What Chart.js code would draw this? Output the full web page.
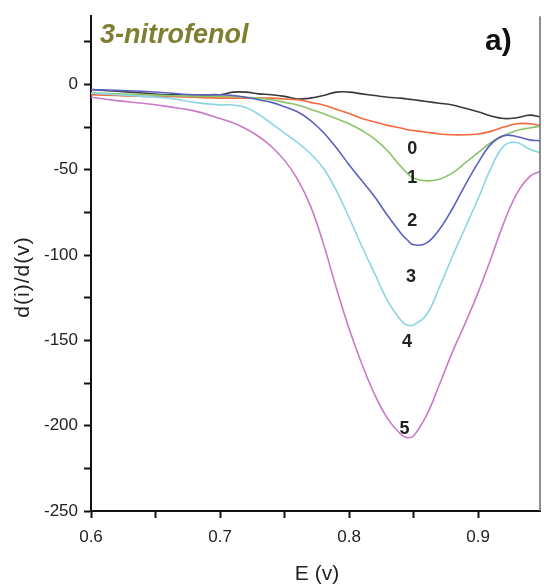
<!DOCTYPE html>
<html lang="pt">
<head>
  <meta charset="UTF-8" />
  <title>3-nitrofenol</title>
  <script src="https://cdn.jsdelivr.net/npm/chart.js"></script>
  <style>
    html, body { margin: 0; padding: 0; background: #fff; }
    #wrap { width: 544px; height: 587px; position: relative; }
  </style>
</head>
<body>
  <div id="wrap"><canvas id="chart"></canvas></div>

  <script>
    // potential (V)
    const E = [0.60, 0.62, 0.64, 0.66, 0.68, 0.70, 0.71, 0.72, 0.73, 0.74, 0.75, 0.76, 0.77, 0.78, 0.79, 0.80,
               0.81, 0.82, 0.83, 0.84, 0.845, 0.85, 0.86, 0.87, 0.88, 0.89, 0.90, 0.91, 0.92, 0.93, 0.94, 0.948];

    // d(i)/d(v) for each addition
    const curve0 = [-3, -4, -5, -6, -6, -6, -4.5, -4.5, -5.5, -6, -7, -8.5, -8, -6.5, -4.5, -4.5,
                    -5.5, -6.5, -7.5, -8, -8.5, -9, -10, -11, -12, -14, -16, -18.5, -20, -19.5, -18, -19];
    const curve1 = [-6, -6.5, -7, -7, -7.5, -8, -8, -8, -8, -8, -8.5, -9, -10.5, -12, -14.5, -17,
                    -20, -22, -24, -25.5, -26.5, -27, -28, -29, -29.5, -29.5, -29, -27.5, -25, -23, -23, -24];
    const curve2 = [-5, -5.5, -6, -6.5, -7, -7, -7, -7.5, -8, -9, -10.5, -12, -14.5, -17, -20, -23,
                    -27, -32, -39, -48, -52, -55, -56.5, -55.5, -52, -46, -40, -34, -30, -27, -25.5, -24.5];
    const curve3 = [-3, -3.5, -4, -5, -6, -6, -6.5, -7.5, -9, -10.5, -13, -16, -21, -28, -37, -47,
                    -56.5, -66, -77, -87, -91, -94, -93, -85, -73, -59, -46, -35, -30, -30.5, -32.5, -33];
    const curve4 = [-5, -6, -7, -8, -10.5, -12, -12, -13.5, -17.5, -23, -28.5, -34, -40.5, -49, -62, -78,
                    -95, -111, -127, -138, -141, -141, -135, -119, -101, -84, -67, -49, -36, -34, -38, -40];
    const curve5 = [-7.5, -9.5, -11, -13, -15.5, -20, -22.5, -26, -30.5, -36.5, -44.5, -55.5, -71, -93, -119, -143,
                    -164, -182, -196, -205, -207, -206, -194, -176, -157, -140, -122, -102, -81, -64, -54, -51];

    const curveNames = ['0', '1', '2', '3', '4', '5'];
    const curveColors = ['#3a3a3a', '#f4683e', '#8cc46c', '#5c60c0', '#8ad6e6', '#c97ac8'];

    // where the curve numbers sit (data units)
    const labelE = [0.849, 0.849, 0.849, 0.848, 0.845, 0.843];
    const labelY = [-38, -55, -80, -113, -151, -202];

    const xTicks = [0.6, 0.65, 0.7, 0.75, 0.8, 0.85, 0.9];
    const yTicks = [-250, -225, -200, -175, -150, -125, -100, -75, -50, -25, 0, 25];

    const curves = [curve0, curve1, curve2, curve3, curve4, curve5];

    Chart.defaults.font.family = 'Arial, "Liberation Sans", sans-serif';
    Chart.defaults.color = '#222';

    const extras = {
      id: 'extras',
      afterDraw(chart) {
        const { ctx, chartArea, scales } = chart;
        ctx.save();
        // right frame
        ctx.strokeStyle = '#6a6a6a';
        ctx.lineWidth = 1.5;
        ctx.beginPath();
        ctx.moveTo(chartArea.right, chartArea.top);
        ctx.lineTo(chartArea.right, chartArea.bottom);
        ctx.stroke();

        // curve numbers
        ctx.fillStyle = '#222';
        ctx.font = 'bold 18px Arial, "Liberation Sans", sans-serif';
        ctx.textAlign = 'center';
        ctx.textBaseline = 'middle';
        curveNames.forEach((n, i) => {
          ctx.fillText(n, scales.x.getPixelForValue(labelE[i]), scales.y.getPixelForValue(labelY[i]));
        });

        // header texts
        ctx.textAlign = 'left';
        ctx.textBaseline = 'alphabetic';
        ctx.fillStyle = '#7e7f30';
        ctx.font = 'italic bold 27px Arial, "Liberation Sans", sans-serif';
        ctx.fillText('3-nitrofenol', 100, 43);
        ctx.fillStyle = '#111';
        ctx.font = 'bold 30px Arial, "Liberation Sans", sans-serif';
        ctx.fillText('a)', 485, 50);

        // axis titles
        ctx.fillStyle = '#222';
        ctx.font = '21px Arial, "Liberation Sans", sans-serif';
        ctx.textAlign = 'center';
        ctx.fillText('E (v)', 317, 580);
        ctx.translate(23, 277);
        ctx.rotate(-Math.PI / 2);
        ctx.letterSpacing = '1px';
        ctx.textBaseline = 'middle';
        ctx.fillText('d(i)/d(v)', 0, 0);
        ctx.restore();
      }
    };

    new Chart(document.getElementById('chart'), {
      type: 'line',
      data: {
        labels: E,
        datasets: curves.map((c, i) => ({
          label: curveNames[i],
          data: c.map((v, j) => ({ x: E[j], y: v })),
          borderColor: curveColors[i],
          borderWidth: 1.6,
          pointRadius: 0,
          fill: false,
          tension: 0.4
        })).reverse()
      },
      options: {
        responsive: true,
        maintainAspectRatio: false,
        animation: false,
        layout: { padding: { top: 12, right: 4, left: 0, bottom: 0 } },
        plugins: { legend: { display: false }, tooltip: { enabled: false } },
        scales: {
          x: {
            type: 'linear',
            min: 0.6,
            max: 0.948,
            afterBuildTicks: s => { s.ticks = xTicks.map(v => ({ value: v })); },
            afterFit: s => { s.height = 76; },
            ticks: {
              font: { size: 17 },
              padding: 9,
              maxRotation: 0,
              callback: v => (Math.abs(v * 10 - Math.round(v * 10)) < 1e-6 ? v.toFixed(1) : '')
            },
            grid: { drawOnChartArea: false, drawTicks: true, tickLength: 7, tickColor: '#111', tickWidth: 2 },
            border: { color: '#111', width: 2 }
          },
          y: {
            min: -250,
            max: 40,
            afterBuildTicks: s => { s.ticks = yTicks.map(v => ({ value: v })); },
            afterFit: s => { s.width = 91; },
            ticks: {
              font: { size: 17 },
              padding: 6,
              callback: v => (v % 50 === 0 ? String(v) : '')
            },
            grid: { drawOnChartArea: false, drawTicks: true, tickLength: 7, tickColor: '#111', tickWidth: 2 },
            border: { color: '#111', width: 2 }
          }
        }
      },
      plugins: [extras]
    });
  </script>
</body>
</html>
